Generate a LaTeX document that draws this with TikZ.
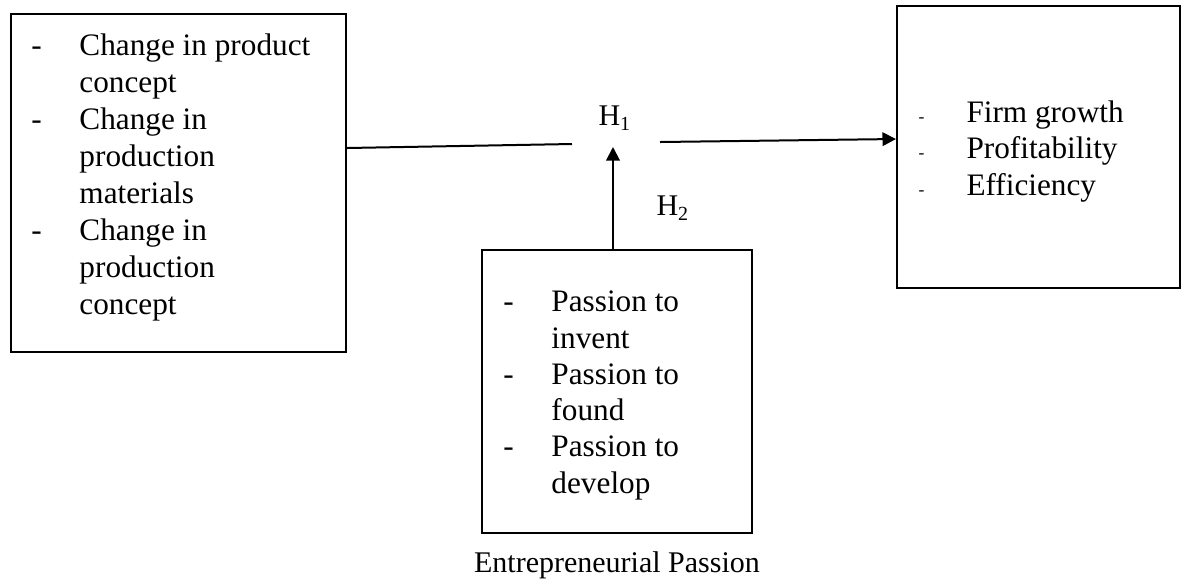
\documentclass[tikz,border=0pt]{standalone}
\usepackage{fontspec}
\setmainfont{Liberation Serif}
\usetikzlibrary{arrows.meta}

\begin{document}
\begin{tikzpicture}[x=0.4pt,y=-0.4pt,
    box/.style={draw,line width=0.8pt,inner sep=0pt},
    items/.style={anchor=north west,inner sep=0pt,align=left,
      font=\fontsize{12.5}{14.8}\selectfont},
    lab/.style={font=\fontsize{12}{14.8}\selectfont},
    conn/.style={line width=0.8pt},
    tip/.style={-{Triangle[length=5.4pt,width=5.4pt]}}]
      \useasboundingbox (0,0) rectangle (1182,583);
      % the three boxes
      \node[box,minimum width=134pt,minimum height=135.2pt] (innov) at (178.5,183) {};
      \node[box,minimum width=113.2pt,minimum height=112.8pt] (perf) at (1038.5,147) {};
      \node[box,minimum width=108pt,minimum height=113.2pt] (pass) at (617,391.5) {};
      % their lists
      \node[items] (innovtxt) at ([shift={(21,16)}]innov.north west) {%
        \begin{tabular}[t]{@{}p{19.2pt}@{}l@{}}
        - & Change in product\\ & concept\\
        - & Change in\\ & production\\ & materials\\
        - & Change in\\ & production\\ & concept
        \end{tabular}};
      \node[items,font=\fontsize{12.5}{14.6}\selectfont] (perftxt) at ([shift={(22,91)}]perf.north west) {%
        \begin{tabular}[t]{@{}p{19.2pt}@{}l@{}}
        {\scriptsize -} & Firm growth\\
        {\scriptsize -} & Profitability\\
        {\scriptsize -} & Efficiency
        \end{tabular}};
      \node[items,font=\fontsize{12.5}{14.5}\selectfont] (passtxt) at ([shift={(22,37)}]pass.north west) {%
        \begin{tabular}[t]{@{}p{19.2pt}@{}l@{}}
        - & Passion to\\ & invent\\
        - & Passion to\\ & found\\
        - & Passion to\\ & develop
        \end{tabular}};
      \node[lab] (passlab) at (617,565) {Entrepreneurial Passion};

      % hypotheses
      \coordinate (gapL) at (572,144);
      \coordinate (gapR) at (660,142);
      \coordinate (meet) at (613,147);
      \node[lab] (h1) at (615,118) {H\textsubscript{1}};
      \node[lab] (h2) at (673,208) {H\textsubscript{2}};
      \draw[conn] (innov.east |- 0,148) -- (gapL);
      \draw[conn,tip] (gapR) -- (perf.west |- 0,139);
      \draw[conn,tip] (pass.north -| meet) -- (meet);
\end{tikzpicture}
\end{document}
